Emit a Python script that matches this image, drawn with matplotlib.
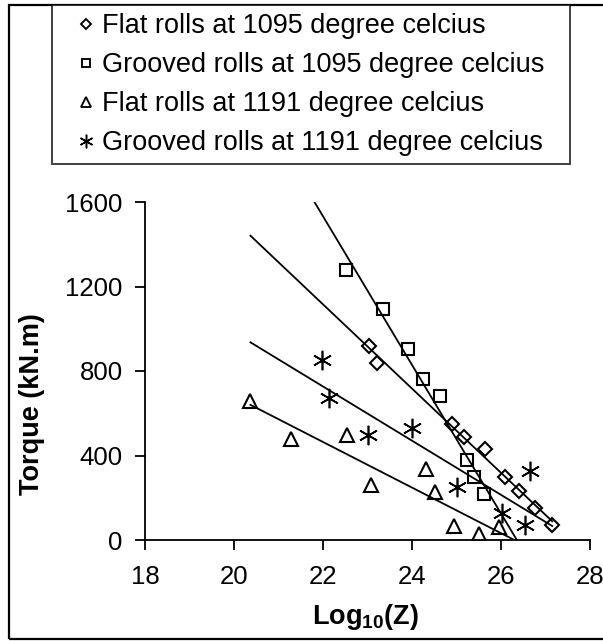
import numpy as np
import matplotlib
matplotlib.use('Agg')
import matplotlib.pyplot as plt
from matplotlib.lines import Line2D
from matplotlib.patches import Rectangle

plt.rcParams['font.family'] = ['Liberation Sans', 'DejaVu Sans']
plt.rcParams['mathtext.fontset'] = 'custom'
plt.rcParams['mathtext.rm'] = 'Liberation Sans'
plt.rcParams['mathtext.bf'] = 'Liberation Sans:bold'

# data
flat_1095_x = [23.03, 23.22, 24.91, 25.16, 25.65, 26.10, 26.40, 26.76, 27.15]
flat_1095_y = [919, 840, 547, 488, 433, 299, 233, 153, 71]

grooved_1095_x = [22.51, 23.34, 23.90, 24.25, 24.64, 25.24, 25.39, 25.62]
grooved_1095_y = [1277, 1095, 903, 761, 684, 381, 296, 217]

flat_1191_x = [20.37, 21.28, 22.53, 23.07, 24.31, 24.52, 24.95, 25.51, 25.96]
flat_1191_y = [657, 480, 496, 260, 334, 228, 66, 27, 63]

grooved_1191_x = [21.97, 22.13, 23.02, 24.01, 25.00, 26.02, 26.55, 26.66]
grooved_1191_y = [853, 673, 499, 529, 250, 129, 71, 327]

labels = ['Flat rolls at 1095 degree celcius',
          'Grooved rolls at 1095 degree celcius',
          'Flat rolls at 1191 degree celcius',
          'Grooved rolls at 1191 degree celcius']

# x, y, marker, size, edge width
series = [(flat_1095_x, flat_1095_y, 'D', 7.5, 1.5),
          (grooved_1095_x, grooved_1095_y, 's', 9, 1.5),
          (flat_1191_x, flat_1191_y, '^', 10, 1.5),
          (grooved_1191_x, grooved_1191_y, (6, 2, 0), 14, 1.2)]

W, H = 603, 641
fig = plt.figure(figsize=(W / 100, H / 100), dpi=100)
ax = fig.add_axes([145 / W, 1 - 540 / H, 445 / W, 338 / H])

# trend lines span the whole data range
all_x = np.concatenate([s[0] for s in series])
xs = np.linspace(all_x.min(), all_x.max(), 50)

handles = []
for (x, y, m, ms, mew), lab in zip(series, labels):
    k, b = np.polyfit(x, y, 1)
    ax.plot(xs, k * xs + b, color='black', lw=1.3, zorder=2)
    ax.plot(x, y, linestyle='none', marker=m, markersize=ms, markerfacecolor='none',
            markeredgecolor='black', markeredgewidth=mew, zorder=3)
    handles.append(Line2D([], [], linestyle='none', marker=m, markersize=ms * 0.7,
                          markerfacecolor='none', markeredgecolor='black',
                          markeredgewidth=mew * 0.9, label=lab))

ax.set_xlim(18, 28)
ax.set_ylim(0, 1600)
ax.set_xticks([18, 20, 22, 24, 26, 28])
ax.set_yticks([0, 400, 800, 1200, 1600])
ax.spines['top'].set_visible(False)
ax.spines['right'].set_visible(False)
for sp in ['left', 'bottom']:
    ax.spines[sp].set_linewidth(1.3)
ax.tick_params(axis='both', direction='out', length=7, width=1.3, labelsize=18.5)
ax.tick_params(axis='y', pad=9)
ax.tick_params(axis='x', pad=11)

fig.text(32 / W, 1 - 404 / H, 'Torque (kN.m)', rotation=90, fontsize=19.5,
         fontweight='bold', ha='center', va='center')
fig.text(366 / W, 1 - 617 / H, r'Log$_{\mathbf{10}}$(Z)', fontsize=19.5,
         fontweight='bold', ha='center', va='center')

leg = fig.legend(handles=handles, loc='upper left',
                 bbox_to_anchor=(52 / W, 1 - 164 / H, 518 / W, 159 / H),
                 bbox_transform=fig.transFigure,
                 mode='expand', fontsize=19.5, frameon=True, fancybox=False,
                 edgecolor='black', borderpad=0.3, labelspacing=0.48,
                 handlelength=1.9, handletextpad=-0.35, borderaxespad=0)
leg.get_frame().set_linewidth(1.3)

# outer chart border
fig.patches.append(Rectangle((9 / W, 1 - 639 / H), 1.1, 634 / H, transform=fig.transFigure,
                             fill=False, edgecolor='black', lw=1.6, clip_on=False))

fig.savefig('out.png', dpi=100)
